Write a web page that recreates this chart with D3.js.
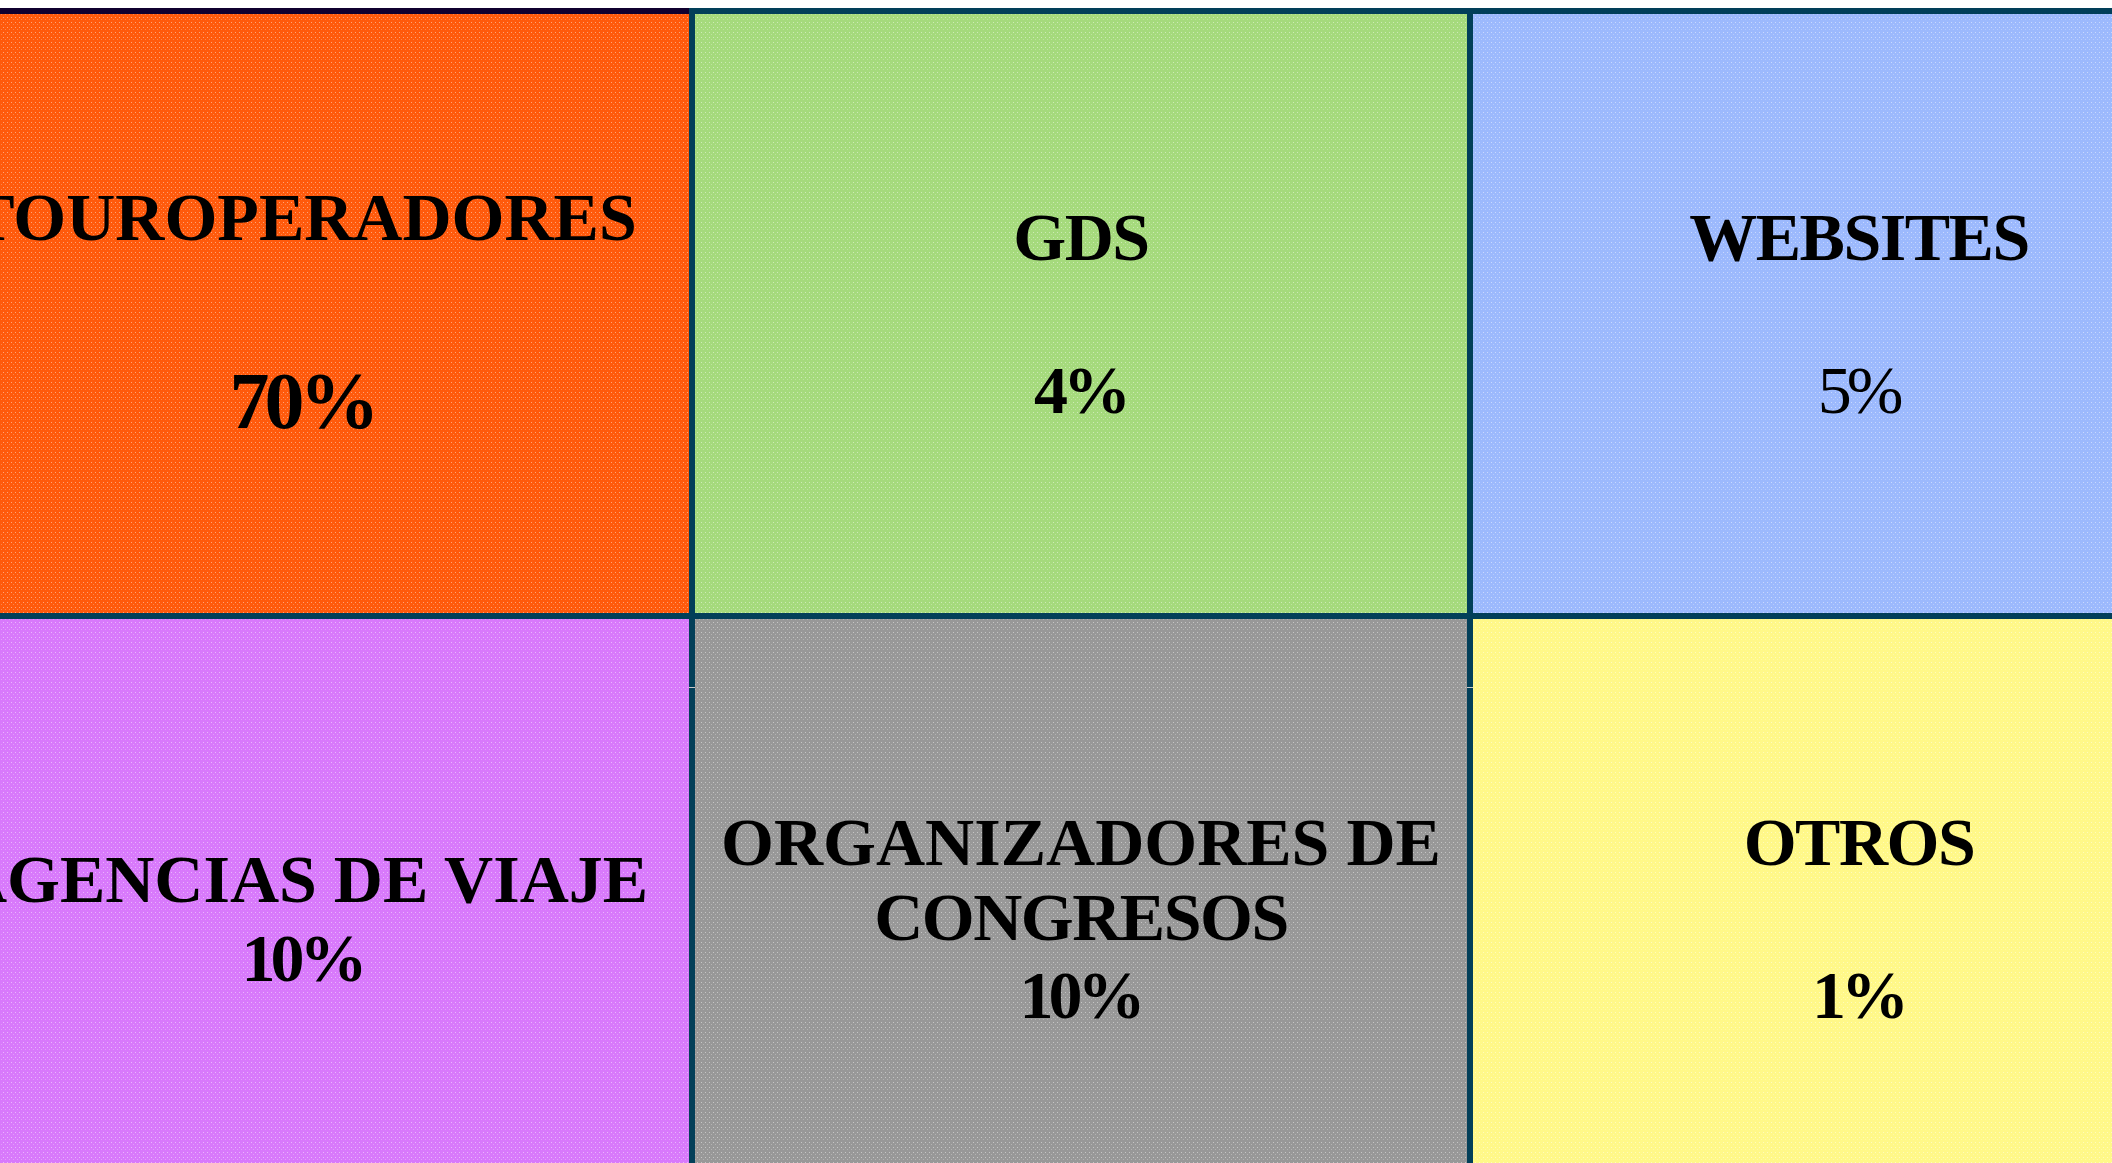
<!DOCTYPE html>
<html>
<head>
<meta charset="utf-8">
<script src="https://cdn.jsdelivr.net/npm/d3@7"></script>
<style>
  html, body { margin: 0; padding: 0; background: #fff; overflow: hidden; }
  svg { display: block; }
</style>
</head>
<body>
<svg id="chart" width="2112" height="1163"></svg>
<script>
// data
const categories = ["TOUROPERADORES", "GDS", "WEBSITES", "AGENCIAS DE VIAJE", "ORGANIZADORES DE CONGRESOS", "OTROS"];
const shares = [70, 4, 5, 10, 10, 1];
const gridCols = [0, 1, 2];
const gridRows = [0, 1];

// look
const fills = ["#ff5a0c", "#a5da7c", "#9cb9fd", "#d879fb", "#989898", "#fff888"];
const borderCol = "#023f59";
// baseline offsets from top of cell: [title, percent], and percent font / weight
const cellLayout = [
  {title: 229, pct: 417, pctSize: 80, pctWeight: "bold"},
  {title: 249, pct: 402, pctSize: 68, pctWeight: "bold"},
  {title: 249, pct: 402, pctSize: 68, pctWeight: "normal"},
  {title: 286, pct: 365, pctSize: 68, pctWeight: "bold"},
  {title: 249, pct: 402, pctSize: 68, pctWeight: "bold"},
  {title: 249, pct: 402, pctSize: 68, pctWeight: "bold"}
];
const fontFam = "'Liberation Serif', 'Times New Roman', serif";
const lineGap = 75;

let svg = d3.select("#chart");
let W = +svg.attr("width");
let H = +svg.attr("height");

svg.append("rect").attr("width", W).attr("height", H).attr("fill", "#fff");

let x = d3.scaleBand().domain(gridCols).range([-86, 2248]).padding(0);
let y = d3.scaleBand().domain(gridRows).range([11, 1221]).padding(0);

// dotted texture
let defs = svg.append("defs");
let pat = defs.append("pattern").attr("id", "dots").attr("patternUnits", "userSpaceOnUse")
  .attr("width", 4).attr("height", 5);
pat.append("rect").attr("x", 1).attr("y", 1).attr("width", 1).attr("height", 1).attr("fill", "rgba(255,255,255,0.45)");
pat.append("rect").attr("x", 3).attr("y", 3).attr("width", 1).attr("height", 1).attr("fill", "rgba(255,255,255,0.25)");

let cells = categories.map((c, i) => ({name: c, share: shares[i], col: i % 3, row: Math.floor(i / 3), idx: i}));

let g = svg.append("g");
let cg = g.selectAll("g.cell").data(cells).join("g").attr("class", "cell")
  .attr("transform", d => `translate(${x(d.col)},${y(d.row)})`);

cg.append("rect")
  .attr("width", x.bandwidth()).attr("height", y.bandwidth())
  .attr("fill", d => fills[d.idx]);
cg.append("rect")
  .attr("width", x.bandwidth()).attr("height", y.bandwidth())
  .attr("fill", "url(#dots)");

// borders drawn on top
cg.append("rect")
  .attr("width", x.bandwidth()).attr("height", y.bandwidth())
  .attr("fill", "none").attr("stroke", borderCol).attr("stroke-width", 6);

// dark top edge over the first column
svg.append("rect").attr("x", 0).attr("y", 8).attr("width", x(1) - 3).attr("height", 6).attr("fill", "#10002f");

// small light ticks on the vertical borders
[1, 2].forEach(c => {
  svg.append("rect").attr("x", x(c) - 3).attr("y", 687).attr("width", 6).attr("height", 1).attr("fill", "#c8c8c8");
});

function wrapLines(text, maxW, size) {
  let probe = svg.append("text").attr("font-family", fontFam).attr("font-weight", "bold").attr("font-size", size);
  let words = text.split(" "), lines = [], cur = "";
  words.forEach(w => {
    let t = cur ? cur + " " + w : w;
    probe.text(t);
    if (probe.node().getComputedTextLength() > maxW && cur) { lines.push(cur); cur = w; }
    else cur = t;
  });
  lines.push(cur);
  probe.remove();
  return lines;
}

cg.each(function(d) {
  let sel = d3.select(this);
  let lay = cellLayout[d.idx];
  let cx = x.bandwidth() / 2;
  let lines = d.name.length > 20 ? wrapLines(d.name, 740, 68) : [d.name];
  lines.forEach((ln, k) => {
    sel.append("text")
      .attr("x", cx).attr("y", lay.title + k * lineGap)
      .attr("text-anchor", "middle")
      .attr("font-family", fontFam).attr("font-weight", "bold").attr("font-size", 68)
      .attr("letter-spacing", ln.length < 12 ? -1.5 : 0)
      .attr("fill", "#000")
      .text(ln);
  });
  sel.append("text")
    .attr("x", cx - 1).attr("y", lay.pct)
    .attr("text-anchor", "middle")
    .attr("font-family", fontFam).attr("font-weight", lay.pctWeight).attr("font-size", lay.pctSize)
    .attr("letter-spacing", -5)
    .attr("fill", "#000")
    .text(d.share + "%");
});
</script>
</body>
</html>
